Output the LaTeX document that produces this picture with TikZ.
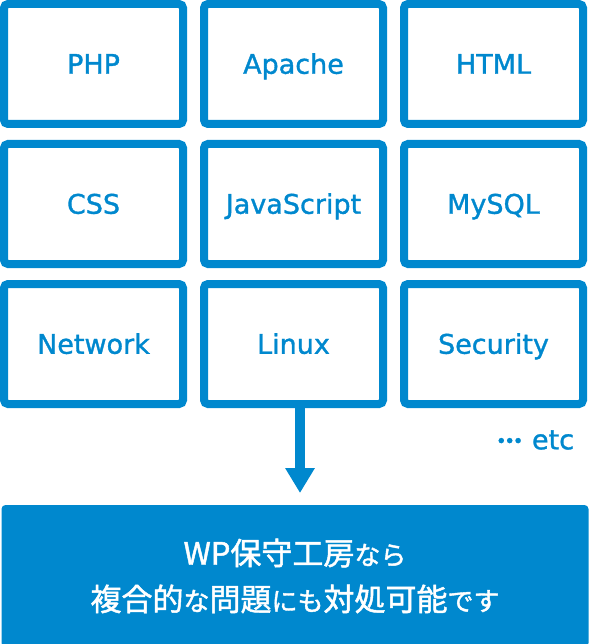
\documentclass[tikz,border=0pt]{standalone}
\usepackage{fontspec}
\setmainfont{DejaVu Sans}
\newfontfamily\labelfont[FakeBold=1.2]{DejaVu Sans}
\newfontfamily\jpfont[FakeBold=1.5]{Noto Sans CJK JP}
\usetikzlibrary{arrows.meta}
\definecolor{wpblue}{RGB}{0,136,206}
\newcommand{\kana}[1]{{\fontsize{26}{46}\selectfont #1}}

\begin{document}
\begin{tikzpicture}[
  x=1pt, y=-1pt,
  skill/.style={rectangle, draw=wpblue, line width=8pt, rounded corners=4pt, minimum width=179pt, minimum height=120pt, text=wpblue, text height=19.5pt, text depth=0pt, font=\labelfont\fontsize{27}{27}\selectfont},
  arrow/.style={-{Triangle[width=28pt,length=25pt]}, line width=10pt, draw=wpblue},
  result/.style={rectangle, fill=wpblue, rounded corners=4pt, minimum width=587pt, minimum height=142pt, text=white, align=center, font=\jpfont\fontsize{31}{46}\selectfont}
]
\useasboundingbox (0,0) rectangle (590,644);

% Skill boxes
\node[skill] (php) at (93.5,64) {PHP};
\node[skill] (apache) at (293.5,64) {Apache};
\node[skill] (html) at (493.5,64) {HTML};
\node[skill] (css) at (93.5,204) {CSS};
\node[skill] (js) at (293.5,204) {JavaScript};
\node[skill] (mysql) at (493.5,204) {MySQL};
\node[skill] (network) at (93.5,344) {Network};
\node[skill] (linux) at (293.5,344) {Linux};
\node[skill] (security) at (493.5,344) {Security};

% etc
\node[text=wpblue, font=\labelfont\fontsize{27}{27}\selectfont] (etc) at (535,440) {{\fontsize{18}{18}\selectfont\raisebox{2pt}{•\kern-2.2pt•\kern-2.2pt•}} etc};

% Result box
\node[result] (msg) at (295,576) {WP保守工房\kana{なら}\\複合的\kana{な}問題\kana{にも}対処可能\kana{です}};

\coordinate (tip) at (300,493);
\draw[arrow] ([xshift=6.5pt]linux.south) -- (tip);

\end{tikzpicture}
\end{document}
